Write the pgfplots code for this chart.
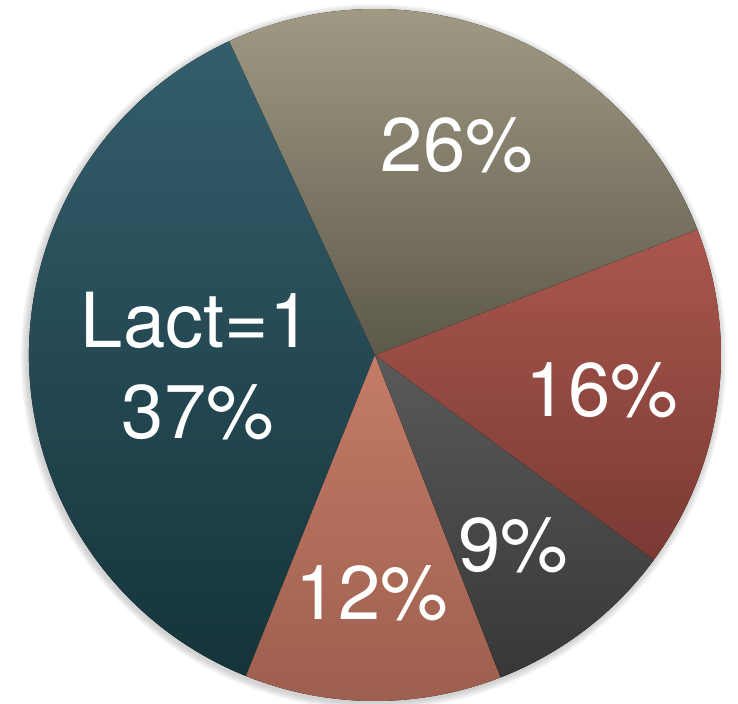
\documentclass[border=0pt]{standalone}
\usepackage{pgfplots}
\pgfplotsset{compat=1.18}
\usepackage{fontspec}
\setmainfont{TeX Gyre Heros}

\definecolor{tealT}{HTML}{345E6C}
\definecolor{tealB}{HTML}{15343A}
\definecolor{salT}{HTML}{C47C66}
\definecolor{salB}{HTML}{9C5E4E}
\definecolor{grayT}{HTML}{5A5A5A}
\definecolor{grayB}{HTML}{373737}
\definecolor{redT}{HTML}{AA574E}
\definecolor{redB}{HTML}{793A33}
\definecolor{tanT}{HTML}{A19B85}
\definecolor{tanB}{HTML}{5D594A}

% share in percent / top colour / bottom colour, counter-clockwise from 114.9 deg
\def\slices{37/tealT/tealB, 12/salT/salB, 9/grayT/grayB, 16/redT/redB, 26/tanT/tanB}

\tikzset{lbl/.style={text=white, inner sep=0pt, font=\fontsize{76}{90}\selectfont}}

\begin{document}
\begin{tikzpicture}
\begin{axis}[
  name=ax,
  x=346pt, y=346pt,
  xmin=-1.0838, xmax=1.0491,
  ymin=-1.0058, ymax=1.026,
  hide axis, clip=false,
]
\pgfplotsextra{
  % soft shadow
  \foreach \k in {1,...,8}{
    \fill[black, opacity=0.025] (axis cs:-0.004,-0.006) circle[radius=346pt+\k*0.9pt];
  }
  \xdef\acc{114.9}
  \foreach \p/\ct/\cb in \slices {
    \pgfmathsetmacro\a{\acc}
    \pgfmathsetmacro\b{\acc+3.6*\p}
    \fill[top color=\ct, bottom color=\cb]
      (axis cs:0,0) -- ++(\a:346pt) arc[start angle=\a, end angle=\b, radius=346pt] -- cycle;
    \xdef\acc{\b}
  }
}
\node[lbl] at (axis cs:0.237,0.607) {26\%};
\node[lbl] at (axis cs:-0.517,0.101) {Lact=1};
\node[lbl] at (axis cs:-0.512,-0.165) {37\%};
\node[lbl] at (axis cs:0.656,-0.101) {16\%};
\node[lbl] at (axis cs:0.399,-0.549) {9\%};
\node[lbl] at (axis cs:-0.009,-0.688) {12\%};
\end{axis}
\pgfresetboundingbox
\path (ax.south west) rectangle (ax.north east);
\end{tikzpicture}
\end{document}
